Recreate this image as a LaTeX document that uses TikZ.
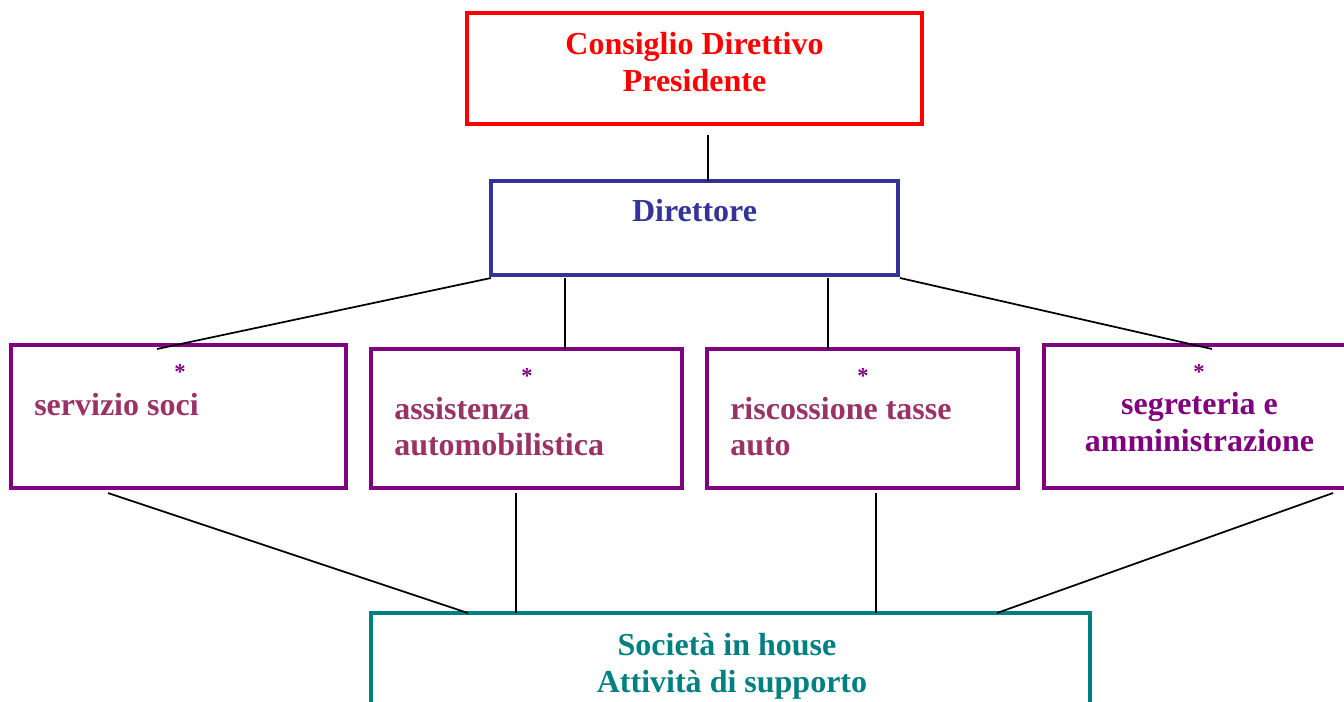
\documentclass[tikz,border=0pt]{standalone}
\usepackage{fontspec}
\setmainfont{Liberation Serif}
\usetikzlibrary{calc}
\definecolor{cred}{RGB}{255,0,0}
\definecolor{cblue}{RGB}{51,51,153}
\definecolor{cpurple}{RGB}{128,0,128}
\definecolor{cplum}{RGB}{153,51,102}
\definecolor{cteal}{RGB}{0,128,128}
\tikzset{
  box/.style={draw, line width=2.4pt, fill=white, inner sep=0pt, outer sep=0pt},
  lbl/.style={font=\fontsize{24}{28}\selectfont\bfseries, inner sep=0pt},
  star/.style={font=\fontsize{17}{20}\selectfont\bfseries, text=cpurple, inner sep=0pt},
  conn/.style={draw=black, line width=1.3pt}
}
\begin{document}
\begin{tikzpicture}[x=0.75pt,y=-0.75pt]
\useasboundingbox (0,0) rectangle (1344,702);
\clip (0,0) rectangle (1344,702);
\fill[white] (0,0) rectangle (1344,702);
% boxes
\node[box, draw=cred, minimum width=455*0.75pt, minimum height=111*0.75pt] (cd) at (694.5,68.5) {};
\node[box, draw=cblue, minimum width=407*0.75pt, minimum height=94*0.75pt] (dir) at (694.5,228) {};
\node[box, draw=cpurple, minimum width=335*0.75pt, minimum height=143*0.75pt] (s1) at (178.5,416.5) {};
\node[box, draw=cpurple, minimum width=311*0.75pt, minimum height=139*0.75pt] (s2) at (526.5,418.5) {};
\node[box, draw=cpurple, minimum width=311*0.75pt, minimum height=139*0.75pt] (s3) at (862.5,418.5) {};
\node[box, draw=cpurple, minimum width=320*0.75pt, minimum height=143*0.75pt] (s4) at (1204,416.5) {};
\node[box, draw=cteal, minimum width=719*0.75pt, minimum height=140*0.75pt] (soc) at (730.5,683) {};
% texts
\node[lbl, text=cred, anchor=base] (t1) at (694.5,55) {Consiglio Direttivo};
\node[lbl, text=cred, anchor=base] (t2) at (694.5,92) {Presidente};
\node[lbl, text=cblue, anchor=base] (t3) at (694.5,222) {Direttore};
\node[star] (a1) at (180,372) {*};
\node[star] (a2) at (527,376) {*};
\node[star] (a3) at (863,376) {*};
\node[star] (a4) at (1199,372) {*};
\node[lbl, text=cplum, anchor=base west] (t4) at (34,415) {servizio soci};
\node[lbl, text=cplum, anchor=base west] (t5) at (394,419) {assistenza};
\node[lbl, text=cplum, anchor=base west] (t6) at (394,455) {automobilistica};
\node[lbl, text=cplum, anchor=base west] (t7) at (730,419) {riscossione tasse};
\node[lbl, text=cplum, anchor=base west] (t8) at (730,455) {auto};
\node[lbl, text=cpurple, anchor=base] (t9) at (1199.5,414) {segreteria e};
\node[lbl, text=cpurple, anchor=base] (t10) at (1199.5,451) {amministrazione};
\node[lbl, text=cteal, anchor=base] (t11) at (727,655) {Società in house};
\node[lbl, text=cteal, anchor=base] (t12) at (732,692) {Attività di supporto};
% connectors
\draw[conn] ($(cd.south)+(13.5,11)$) -- ($(dir.north)+(13.5,0)$);
\draw[conn] ($(dir.south west)+(0,3)$) -- ($(s1.north)+(-21.5,4)$);
\draw[conn] ($(dir.south west)+(74,3)$) -- ($(s2.north)+(38.5,0)$);
\draw[conn] ($(dir.south east)+(-70,3)$) -- ($(s3.north)+(-34.5,0)$);
\draw[conn] ($(dir.south east)+(2,3)$) -- ($(s4.north)+(8,4)$);
\draw[conn] ($(s1.south)+(-70.5,5)$) -- ($(soc.north west)+(97,0)$);
\draw[conn] ($(s2.south)+(-10.5,5)$) -- ($(soc.north west)+(145,0)$);
\draw[conn] ($(s3.south)+(13.5,5)$) -- ($(soc.north west)+(505,0)$);
\draw[conn] ($(s4.south)+(129,5)$) -- ($(soc.north west)+(626,0)$);
\end{tikzpicture}
\end{document}
